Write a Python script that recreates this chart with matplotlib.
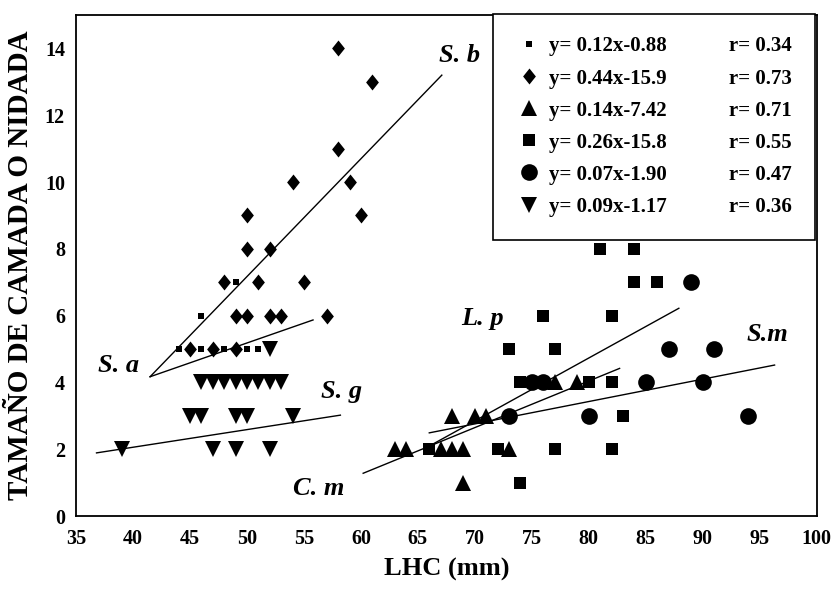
import matplotlib
matplotlib.use("Agg")
import matplotlib.pyplot as plt
from matplotlib.lines import Line2D
from matplotlib.path import Path

plt.rcParams['font.family'] = ['Liberation Serif', 'DejaVu Serif']
plt.rcParams['font.weight'] = 'bold'

# body length (LHC, mm) vs litter / clutch size for each species
sa_x = [44, 46, 48, 50, 51, 46, 49]
sa_y = [5, 5, 5, 5, 5, 6, 7]

sb_x = [58, 61, 58, 54, 59, 50, 60, 50, 52, 48, 51, 55, 49, 50, 52, 53, 57, 45, 47, 49]
sb_y = [14, 13, 11, 10, 10, 9, 9, 8, 8, 7, 7, 7, 6, 6, 6, 6, 6, 5, 5, 5]

cm_x = [63, 64, 67, 68, 69, 73, 68, 70, 71, 77, 79, 69]
cm_y = [2, 2, 2, 2, 2, 2, 3, 3, 3, 4, 4, 1]

lp_x = [81, 84, 84, 86, 76, 82, 73, 77, 74, 80, 82, 83, 66, 72, 77, 82, 74]
lp_y = [8, 8, 7, 7, 6, 6, 5, 5, 4, 4, 4, 3, 2, 2, 2, 2, 1]

sm_x = [89, 87, 91, 75, 76, 85, 90, 73, 80, 94]
sm_y = [7, 5, 5, 4, 4, 4, 4, 3, 3, 3]

sg_x = [39, 47, 49, 52, 45, 46, 49, 50, 54, 46, 47, 48, 49, 50, 51, 52, 53, 52]
sg_y = [2, 2, 2, 2, 3, 3, 3, 3, 3, 4, 4, 4, 4, 4, 4, 4, 4, 5]

# fitted lines as drawn (start / end points)
fit_names = ["S. a", "S. b", "C. m", "L. p", "S.m", "S. g"]
fit_x0 = [41.5, 41.5, 60.2, 65.5, 66.0, 36.8]
fit_y0 = [4.17, 4.17, 1.28, 2.00, 2.49, 1.89]
fit_x1 = [55.8, 67.1, 82.7, 87.9, 96.3, 58.2]
fit_y1 = [5.87, 13.2, 4.42, 6.22, 4.52, 3.02]

# species name positions
name_x = [38.7, 68.7, 56.3, 70.7, 95.7, 58.3]
name_y = [4.52, 13.8, 0.83, 5.92, 5.42, 3.72]

equations = ["y= 0.12x-0.88", "y= 0.44x-15.9", "y= 0.14x-7.42",
             "y= 0.26x-15.8", "y= 0.07x-1.90", "y= 0.09x-1.17"]
r_values = ["r= 0.34", "r= 0.73", "r= 0.71", "r= 0.55", "r= 0.47", "r= 0.36"]

diamond = Path([(0, 1), (0.8, 0), (0, -1), (-0.8, 0), (0, 1)],
               [Path.MOVETO, Path.LINETO, Path.LINETO, Path.LINETO, Path.CLOSEPOLY])

fig = plt.figure(figsize=(8.37, 6.01), dpi=100)
ax = fig.add_axes([0.0908, 0.1414, 0.885, 0.8336])

series = [
    (sa_x, sa_y, 's', 3.8),
    (sb_x, sb_y, diamond, 11.5),
    (cm_x, cm_y, '^', 11.5),
    (lp_x, lp_y, 's', 8),
    (sm_x, sm_y, 'o', 12),
    (sg_x, sg_y, 'v', 11.5),
]
handles = []
for xs, ys, mk, ms in series:
    h, = ax.plot(xs, ys, linestyle='none', marker=mk, markersize=ms,
                 color='black', markeredgewidth=0)
    handles.append(h)

for x0, y0, x1, y1 in zip(fit_x0, fit_y0, fit_x1, fit_y1):
    ax.plot([x0, x1], [y0, y1], color='black', linewidth=1.0)

for name, nx, ny in zip(fit_names, name_x, name_y):
    ax.text(nx, ny, name, fontsize=19, fontstyle='italic', fontweight='bold',
            ha='center', va='center')

# two-column key: marker + equation, then correlation
blank = [Line2D([], [], linestyle='none') for _ in r_values]
leg = ax.legend(handles + blank, equations + r_values, ncol=2, loc='upper right',
                bbox_to_anchor=(0.563, 0.0, 0.434, 1.003), mode='expand',
                frameon=True, fancybox=False, edgecolor='black', framealpha=1,
                fontsize=15, handlelength=1.3, handletextpad=0.3,
                columnspacing=0.5, labelspacing=0.58, borderpad=1.1,
                borderaxespad=0)
leg.get_frame().set_linewidth(1.2)

ax.set_xlim(35, 100)
ax.set_ylim(0, 15)
ax.set_xticks(range(35, 101, 5))
ax.set_yticks(range(0, 15, 2))
ax.tick_params(length=0, labelsize=14.5, pad=8)
ax.tick_params(axis='x', pad=9)
for sp in ax.spines.values():
    sp.set_linewidth(1.3)

ax.set_xlabel("LHC (mm)", fontsize=19, fontweight='bold', labelpad=7)
ax.set_ylabel("TAMAÑO DE CAMADA O NIDADA", fontsize=21, fontweight='bold', labelpad=8)

fig.savefig("out.png", dpi=100)
